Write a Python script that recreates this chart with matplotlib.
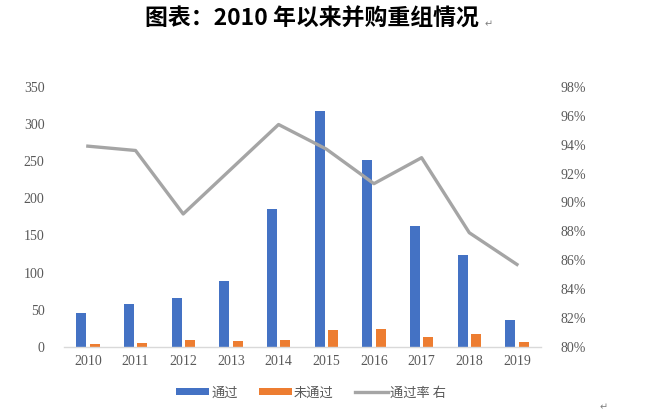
import matplotlib
matplotlib.use("Agg")
import matplotlib.pyplot as plt
from matplotlib.lines import Line2D
from matplotlib.patches import Patch
import numpy as np

years = ["2010", "2011", "2012", "2013", "2014", "2015", "2016", "2017", "2018", "2019"]
passed = [46, 58, 66, 88, 185, 317, 252, 162, 123, 36]
rejected = [3, 4.5, 9.5, 7.5, 9, 22.5, 24, 12.5, 17, 6]
pass_rate = [93.9, 93.6, 89.2, 92.3, 95.4, 93.7, 91.3, 93.1, 87.9, 85.7]
left_ticks = [0, 50, 100, 150, 200, 250, 300, 350]
right_ticks = [80, 82, 84, 86, 88, 90, 92, 94, 96, 98]

BLUE = "#4472C4"
ORANGE = "#ED7D31"
GRAY = "#A5A5A5"
TXT = "#595959"
CJK = ["Noto Sans CJK SC", "DejaVu Sans"]
SERIF = ["Liberation Serif", "DejaVu Serif"]

fig = plt.figure(figsize=(6.5, 4.15), dpi=100)
fig.patch.set_facecolor("white")
ax = fig.add_axes([64 / 650, 1 - 346.7 / 415, (540.8 - 64) / 650, (346.7 - 87) / 415])

x = np.arange(len(years))
w = 0.21
ax.bar(x - 0.14, passed, width=w, color=BLUE, zorder=2)
ax.bar(x + 0.14, rejected, width=w, color=ORANGE, zorder=2)
ax.set_xlim(-0.5, len(years) - 0.5)
ax.set_ylim(0, 350)
ax.set_yticks(left_ticks)
ax.set_yticklabels([str(v) for v in left_ticks], family=SERIF, fontsize=10, color=TXT)
ax.set_xticks(x)
ax.set_xticklabels(years, family=SERIF, fontsize=10, color=TXT)
ax.tick_params(axis="both", length=0, pad=6)
ax.tick_params(axis="y", pad=14)
for s in ["top", "right", "left"]:
    ax.spines[s].set_visible(False)
ax.spines["bottom"].set_color("#D9D9D9")
ax.spines["bottom"].set_linewidth(1)

ax2 = ax.twinx()
ax2.plot(x, pass_rate, color=GRAY, linewidth=2.4, zorder=3)
ax2.set_ylim(80, 98)
ax2.set_yticks(right_ticks)
ax2.set_yticklabels([f"{v}%" for v in right_ticks], family=SERIF, fontsize=10, color=TXT)
ax2.tick_params(axis="y", length=0, pad=14)
for s in ["top", "right", "left", "bottom"]:
    ax2.spines[s].set_visible(False)

handles = [
    Patch(facecolor=BLUE, edgecolor="none"),
    Patch(facecolor=ORANGE, edgecolor="none"),
    Line2D([0], [0], color=GRAY, linewidth=2.4),
]
labels = ["通过", "未通过", "通过率 右"]
leg = fig.legend(handles, labels, loc="center", bbox_to_anchor=(311 / 650, 1 - 393 / 415),
                 ncol=3, frameon=False, prop={"family": CJK, "size": 9.5},
                 handlelength=2.5, handleheight=0.4, columnspacing=1.6, handletextpad=0.15)
for t in leg.get_texts():
    t.set_color(TXT)

fig.text(312 / 650, 1 - 19 / 415, "图表：2010 年以来并购重组情况", ha="center", va="center",
         family=CJK, fontsize=16.5, fontweight="bold", color="black")
fig.text(485 / 650, 1 - 24 / 415, "↵", ha="left", va="center", family=["DejaVu Sans"],
         fontsize=7, color="#808080")
fig.text(604 / 650, 1 - 407 / 415, "↵", ha="center", va="center", family=["DejaVu Sans"],
         fontsize=7, color="#808080")

fig.savefig("out.png", dpi=100, facecolor="white")
